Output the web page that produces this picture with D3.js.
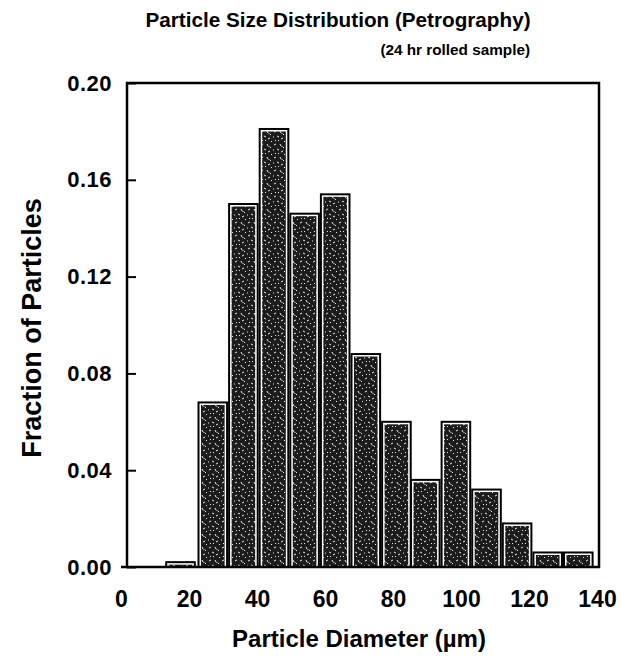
<!DOCTYPE html>
<html>
<head>
<meta charset="utf-8">
<script src="https://cdn.jsdelivr.net/npm/d3@7"></script>
<style>
  body { margin: 0; background: #fff; }
  text { font-family: "Liberation Sans", Arial, sans-serif; font-weight: bold; fill: #000; }
</style>
</head>
<body>
<script>
// bin lower edges (µm), all bins ~9 µm wide
const binStart = [13.0, 22.5, 31.5, 40.5, 49.5, 58.5, 67.5, 76.5, 85.0, 94.0, 103.0, 112.0, 121.0, 130.0]
const binWidth = 9
const fraction = [0.002, 0.068, 0.150, 0.181, 0.146, 0.154, 0.088, 0.060, 0.036, 0.060, 0.032, 0.018, 0.006, 0.006]
const xTicks = [0, 20, 40, 60, 80, 100, 120, 140]
const yTicks = [0.00, 0.04, 0.08, 0.12, 0.16, 0.20]

const svgWidth = 621
const svgHeight = 660

const frame = { left: 127, right: 599, top: 83, bottom: 567 }

const svg = d3.select("body").append("svg")
  .attr("width", svgWidth)
  .attr("height", svgHeight)

// stippled fill, roughly like the scanned bars
const defs = svg.append("defs")
const pat = defs.append("pattern")
  .attr("id", "stip")
  .attr("patternUnits", "userSpaceOnUse")
  .attr("width", 13)
  .attr("height", 13)
pat.append("rect").attr("width", 13).attr("height", 13).attr("fill", "#1c1c1c")
const specks = ["M1,2 l2,-1", "M7,1 l1,2", "M4,6 l2,1", "M10,5 l1,-1", "M2,10 l1,1",
  "M8,9 l2,-1", "M11,11 l1,1", "M5,11 l1,-1", "M0,7 l1,0", "M9,3 l0,1"]
pat.selectAll("path").data(specks).enter().append("path")
  .attr("d", d => d)
  .attr("stroke", "#e8e8e8")
  .attr("stroke-width", 1)
  .attr("fill", "none")

const x = d3.scaleLinear()
  .domain([0, 140])
  .range([121, 597])

const y = d3.scaleLinear()
  .domain([0, 0.20])
  .range([frame.bottom, frame.top])

const bars = binStart.map((b, i) => ({ x0: b, x1: b + binWidth, v: fraction[i] }))

const barG = svg.append("g")

barG.selectAll("rect.outer")
  .data(bars)
  .enter()
  .append("rect")
  .attr("class", "outer")
  .attr("x", d => x(d.x0))
  .attr("y", d => y(d.v) - 1)
  .attr("width", d => x(d.x1) - x(d.x0))
  .attr("height", d => y(0) - y(d.v) + 1)
  .attr("fill", "#000")

barG.selectAll("rect.white")
  .data(bars)
  .enter()
  .append("rect")
  .attr("class", "white")
  .attr("x", d => x(d.x0) + 2)
  .attr("y", d => y(d.v) + 1)
  .attr("width", d => Math.max(0, x(d.x1) - x(d.x0) - 4))
  .attr("height", d => Math.max(0, y(0) - y(d.v) - 1))
  .attr("fill", "#fff")

barG.selectAll("rect.inner")
  .data(bars)
  .enter()
  .append("rect")
  .attr("class", "inner")
  .attr("x", d => x(d.x0) + 3.5)
  .attr("y", d => y(d.v) + 2.5)
  .attr("width", d => Math.max(0, x(d.x1) - x(d.x0) - 7))
  .attr("height", d => Math.max(0, y(0) - y(d.v) - 3))
  .attr("fill", "url(#stip)")

// frame
svg.append("rect")
  .attr("x", frame.left)
  .attr("y", frame.top)
  .attr("width", frame.right - frame.left)
  .attr("height", frame.bottom - frame.top)
  .attr("fill", "none")
  .attr("stroke", "#000")
  .attr("stroke-width", 2.5)

svg.append("line")
  .attr("x1", 121).attr("x2", frame.left)
  .attr("y1", frame.bottom).attr("y2", frame.bottom)
  .attr("stroke", "#000").attr("stroke-width", 2.5)

// y axis
const yAxisG = svg.append("g")
  .attr("transform", `translate(${frame.left}, 0)`)
  .call(d3.axisLeft(y)
    .tickValues(yTicks)
    .tickFormat(d3.format(".2f"))
    .tickSizeInner(-9)
    .tickSizeOuter(0)
    .tickPadding(15))
yAxisG.select(".domain").remove()
yAxisG.selectAll(".tick line").attr("stroke", "#000").attr("stroke-width", 2)
yAxisG.selectAll(".tick text")
  .style("font-size", "22px")
  .style("font-family", "'Liberation Sans', Arial, sans-serif")
  .style("font-weight", "bold")
  .attr("letter-spacing", "0.5")

// x axis
const xAxisG = svg.append("g")
  .attr("transform", `translate(0, ${frame.bottom})`)
  .call(d3.axisBottom(x)
    .tickValues(xTicks)
    .tickSize(0)
    .tickPadding(24))
xAxisG.select(".domain").remove()
xAxisG.selectAll(".tick text")
  .style("font-size", "23px")
  .style("font-family", "'Liberation Sans', Arial, sans-serif")
  .style("font-weight", "bold")

// titles
svg.append("text")
  .attr("x", 338)
  .attr("y", 27)
  .attr("text-anchor", "middle")
  .style("font-size", "20.7px")
  .text("Particle Size Distribution (Petrography)")

svg.append("text")
  .attr("x", 530)
  .attr("y", 55)
  .attr("text-anchor", "end")
  .style("font-size", "15.3px")
  .text("(24 hr rolled sample)")

svg.append("text")
  .attr("x", 359)
  .attr("y", 647)
  .attr("text-anchor", "middle")
  .style("font-size", "24px")
  .text("Particle Diameter (\u00b5m)")

svg.append("text")
  .attr("transform", "translate(41, 328) rotate(-90)")
  .attr("text-anchor", "middle")
  .style("font-size", "27px")
  .text("Fraction of Particles")
</script>
</body>
</html>
